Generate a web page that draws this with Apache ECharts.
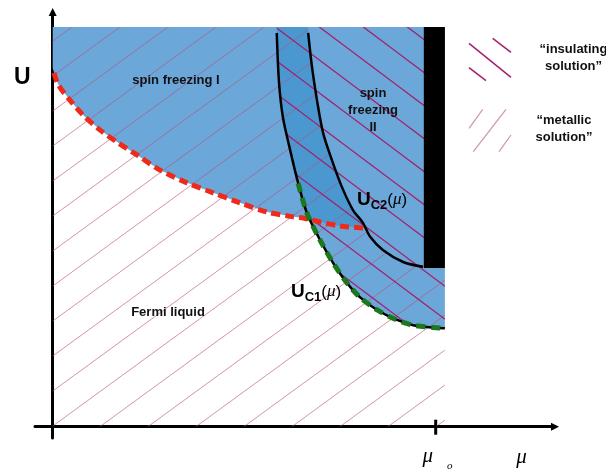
<!DOCTYPE html>
<html>
<head>
<meta charset="utf-8">
<script src="https://cdn.jsdelivr.net/npm/echarts@6/dist/echarts.min.js"></script>
<style>
  html, body { margin: 0; padding: 0; background: #fff; }
  #chart { width: 606px; height: 472px; }
</style>
</head>
<body>
<div id="chart"></div>
<script>
// Schematic phase diagram in the (mu/mu0, U) plane; U in units of the top of the plotted range.

// Spin-freezing crossover (red dashed)
const crossoverMu = [0.000, 0.014, 0.045, 0.079, 0.124, 0.168, 0.220, 0.280, 0.351, 0.419, 0.489, 0.560, 0.628, 0.654, 0.698, 0.750, 0.817];
const crossoverU  = [0.897, 0.857, 0.817, 0.780, 0.742, 0.712, 0.680, 0.642, 0.610, 0.585, 0.560, 0.537, 0.525, 0.522, 0.512, 0.502, 0.497];
// U_C1(mu): insulating solution appears to the right of this line
const uc1Mu = [0.585, 0.591, 0.601, 0.620, 0.641, 0.664, 0.698, 0.732, 0.768, 0.802, 0.847, 0.899, 0.941, 0.993, 1.024];
const uc1U  = [0.985, 0.860, 0.775, 0.692, 0.609, 0.534, 0.467, 0.410, 0.360, 0.324, 0.292, 0.267, 0.254, 0.248, 0.246];
// U_C2(mu): metallic solution disappears to the right of this line
const uc2Mu = [0.667, 0.677, 0.690, 0.706, 0.729, 0.755, 0.784, 0.810, 0.829, 0.862, 0.915, 0.967];
const uc2U  = [0.985, 0.900, 0.817, 0.735, 0.667, 0.600, 0.542, 0.510, 0.475, 0.442, 0.412, 0.400];
// part of U_C1 drawn green dashed
const uc1DashedFromMu = 0.63;
// Mott insulator bar near mu0
const barMu = [0.969, 1.024];
const barU  = [0.397, 1.000];
// plotted domain
const muEdge = 1.024;
const uTop = 1.0;
const mu0 = 1.0;

const sans = '"Liberation Sans", Arial, Helvetica, sans-serif';
const serif = '"Liberation Serif", "Times New Roman", serif';
const ink = '#111';
const metallicInk = 'rgba(180,80,125,0.62)';
const insulatingInk = '#a3206d';

// Repeating tile of parallel lines y = phase + slope * x (canvas pixels)
function hatchTile(w, h, slope, phase, color, width) {
  const c = document.createElement('canvas');
  c.width = w; c.height = h;
  const g = c.getContext('2d');
  g.strokeStyle = color;
  g.lineWidth = width;
  for (let k = -5; k <= 5; k++) {
    g.beginPath();
    g.moveTo(-w, phase + k * h - slope * w);
    g.lineTo(2 * w, phase + k * h + slope * 2 * w);
    g.stroke();
  }
  return c;
}
const metallicFill = { image: hatchTile(48, 35, -35 / 48, 9.5, metallicInk, 1), repeat: 'repeat' };
const insulatingFill = { image: hatchTile(44, 33, 33 / 44, 18.5, insulatingInk, 1.3), repeat: 'repeat' };

const lightBlue = '#6ba7d9';
const darkBlue = '#4b98d1';

// crossing of two polylines
function crossing(aMu, aU, bMu, bU) {
  for (let i = 0; i < aMu.length - 1; i++) {
    for (let j = 0; j < bMu.length - 1; j++) {
      const x1 = aMu[i], y1 = aU[i], x2 = aMu[i + 1], y2 = aU[i + 1];
      const x3 = bMu[j], y3 = bU[j], x4 = bMu[j + 1], y4 = bU[j + 1];
      const d = (x1 - x2) * (y3 - y4) - (y1 - y2) * (x3 - x4);
      if (Math.abs(d) < 1e-12) continue;
      const t = ((x1 - x3) * (y3 - y4) - (y1 - y3) * (x3 - x4)) / d;
      const s = -((x1 - x2) * (y1 - y3) - (y1 - y2) * (x1 - x3)) / d;
      if (t >= 0 && t <= 1 && s >= 0 && s <= 1) {
        return { i: i, j: j, mu: x1 + t * (x2 - x1), u: y1 + t * (y2 - y1) };
      }
    }
  }
  return null;
}

function pairs(mus, us) { return mus.map((m, i) => [m, us[i]]); }

function renderRegions(params, api) {
  const pt = (m, u) => api.coord([m, u]);
  const path = (mus, us) => mus.map((m, i) => pt(m, us[i]));
  const n = crossoverMu.length - 1;

  const aboveCrossover = [pt(0, uTop)].concat(path(crossoverMu, crossoverU), [pt(crossoverMu[n], uTop)]);
  const rightOfUc1 = [pt(uc1Mu[0], uTop)].concat(path(uc1Mu, uc1U), [pt(muEdge, uTop)]);
  const leftOfUc2 = [pt(0, 0), pt(0, uTop), pt(uc2Mu[0], uTop)].concat(path(uc2Mu, uc2U), [pt(muEdge, barU[0]), pt(muEdge, 0)]);

  // coexistence band above the crossover
  const x = crossing(crossoverMu, crossoverU, uc1Mu, uc1U);
  const band = [pt(uc1Mu[0], uTop)];
  for (let k = 0; k <= x.j; k++) band.push(pt(uc1Mu[k], uc1U[k]));
  band.push(pt(x.mu, x.u));
  for (let k = x.i + 1; k <= n; k++) band.push(pt(crossoverMu[k], crossoverU[k]));
  for (let k = uc2Mu.length - 1; k >= 0; k--) {
    if (uc2U[k] > crossoverU[n]) band.push(pt(uc2Mu[k], uc2U[k]));
  }
  band.push(pt(uc2Mu[0], uTop));

  const b0 = pt(barMu[0], barU[1]);
  const b1 = pt(barMu[1], barU[0]);

  const poly = (points, style) => ({ type: 'polygon', shape: { points: points }, style: style, silent: true });
  return {
    type: 'group',
    children: [
      poly(aboveCrossover, { fill: lightBlue }),
      poly(rightOfUc1, { fill: lightBlue }),
      poly(band, { fill: darkBlue }),
      poly(leftOfUc2, { fill: metallicFill }),
      poly(rightOfUc1, { fill: insulatingFill }),
      { type: 'rect', shape: { x: b0[0], y: b0[1], width: b1[0] - b0[0], height: b1[1] - b0[1] }, style: { fill: '#000' }, silent: true }
    ]
  };
}

function renderMu0(params, api) {
  const p = api.coord([mu0, 0]);
  return {
    type: 'group',
    children: [
      { type: 'line', shape: { x1: p[0], y1: p[1] - 7, x2: p[0], y2: p[1] + 8 }, style: { stroke: '#000', lineWidth: 3 }, silent: true },
      { type: 'text', style: { text: 'μ', x: p[0] - 8, y: p[1] + 30, font: 'italic 21px ' + serif, fill: '#000', align: 'center', verticalAlign: 'middle' }, silent: true },
      { type: 'text', style: { text: 'o', x: p[0] + 14, y: p[1] + 39, font: 'italic 11px ' + serif, fill: '#000', align: 'center', verticalAlign: 'middle' }, silent: true }
    ]
  };
}

const ucRich = {
  u: { fontFamily: sans, fontWeight: 'bold', fontSize: 19, lineHeight: 24, color: ink },
  s: { fontFamily: sans, fontWeight: 'bold', fontSize: 13, lineHeight: 12, verticalAlign: 'bottom', color: ink },
  p: { fontFamily: sans, fontSize: 17, lineHeight: 24, color: ink },
  m: { fontFamily: serif, fontStyle: 'italic', fontSize: 17, lineHeight: 24, color: ink }
};

const chart = echarts.init(document.getElementById('chart'), null, { renderer: 'canvas', width: 606, height: 472 });

chart.setOption({
  animation: false,
  backgroundColor: '#fff',
  grid: { left: 35, right: 51, top: 12, bottom: 34, containLabel: false },
  xAxis: {
    type: 'value', min: -0.0462, max: 1.3115,
    axisLine: { onZero: true, symbol: ['none', 'triangle'], symbolSize: [8, 8], lineStyle: { color: '#000', width: 3 } },
    axisTick: { show: false }, axisLabel: { show: false }, splitLine: { show: false },
    name: 'μ', nameLocation: 'end', nameGap: -33.5,
    nameTextStyle: { fontFamily: serif, fontStyle: 'italic', fontSize: 21, color: '#000', align: 'center', verticalAlign: 'top', padding: [20, 0, 0, 0] }
  },
  yAxis: {
    type: 'value', min: -0.0283, max: 1.0375,
    axisLine: { onZero: true, symbol: ['none', 'triangle'], symbolSize: [8, 8], lineStyle: { color: '#000', width: 3 } },
    axisTick: { show: false }, axisLabel: { show: false }, splitLine: { show: false },
    name: 'U', nameLocation: 'end', nameGap: -66,
    nameTextStyle: { fontFamily: sans, fontWeight: 'bold', fontSize: 23, color: '#000', align: 'right', verticalAlign: 'middle', padding: [0, 22, 0, 0] }
  },
  series: [
    { type: 'custom', name: 'regions', coordinateSystem: 'cartesian2d', data: [[0, 0]], renderItem: renderRegions, silent: true, z: 1 },
    { type: 'line', name: 'U_C1', data: pairs(uc1Mu, uc1U), smooth: 0.3, showSymbol: false, silent: true, z: 3,
      lineStyle: { color: '#000', width: 2.5 } },
    { type: 'line', name: 'U_C2', data: pairs(uc2Mu, uc2U), smooth: 0.3, showSymbol: false, silent: true, z: 3,
      lineStyle: { color: '#000', width: 2.5 } },
    { type: 'line', name: 'crossover', data: pairs(crossoverMu, crossoverU), smooth: 0.3, showSymbol: false, silent: true, z: 4,
      lineStyle: { color: '#ee2b1b', width: 5, type: [9, 5], dashOffset: 9 } },
    { type: 'line', name: 'U_C1 dashed', data: pairs(uc1Mu, uc1U).filter(p => p[0] >= uc1DashedFromMu), smooth: 0.3, showSymbol: false, silent: true, z: 4,
      lineStyle: { color: '#1c781c', width: 5, type: [9, 6] } },
    { type: 'custom', name: 'mu0', coordinateSystem: 'cartesian2d', data: [[mu0, 0]], renderItem: renderMu0, silent: true, z: 5 }
  ],
  graphic: [
    { type: 'text', z: 100, silent: true, style: { text: 'spin freezing I', x: 176, y: 80, font: 'bold 13px ' + sans, fill: ink, align: 'center', verticalAlign: 'middle' } },
    { type: 'text', z: 100, silent: true, style: { text: 'spin\nfreezing\nII', x: 373, y: 110, lineHeight: 17, font: 'bold 13px ' + sans, fill: ink, align: 'center', verticalAlign: 'middle' } },
    { type: 'text', z: 100, silent: true, style: { text: 'Fermi liquid', x: 168, y: 312.5, font: 'bold 13px ' + sans, fill: ink, align: 'center', verticalAlign: 'middle' } },
    { type: 'text', z: 100, silent: true, style: { text: '{u|U}{s|C2}{p|(}{m|μ}{p|)}', x: 357, y: 200, rich: ucRich, align: 'left', verticalAlign: 'middle' } },
    { type: 'text', z: 100, silent: true, style: { text: '{u|U}{s|C1}{p|(}{m|μ}{p|)}', x: 291, y: 292, rich: ucRich, align: 'left', verticalAlign: 'middle' } },
    // legend
    { type: 'line', z: 100, silent: true, shape: { x1: 492.7, y1: 38.3, x2: 511, y2: 52.3 }, style: { stroke: insulatingInk, lineWidth: 1.5 } },
    { type: 'line', z: 100, silent: true, shape: { x1: 469, y1: 43.3, x2: 511, y2: 77.3 }, style: { stroke: insulatingInk, lineWidth: 1.5 } },
    { type: 'line', z: 100, silent: true, shape: { x1: 469, y1: 67.7, x2: 486, y2: 80.7 }, style: { stroke: insulatingInk, lineWidth: 1.5 } },
    { type: 'line', z: 100, silent: true, shape: { x1: 473.3, y1: 151.7, x2: 506, y2: 109.3 }, style: { stroke: metallicInk, lineWidth: 1.2 } },
    { type: 'line', z: 100, silent: true, shape: { x1: 482.7, y1: 109.3, x2: 469, y2: 128.3 }, style: { stroke: metallicInk, lineWidth: 1.2 } },
    { type: 'line', z: 100, silent: true, shape: { x1: 511, y1: 135, x2: 499, y2: 151.7 }, style: { stroke: metallicInk, lineWidth: 1.2 } },
    { type: 'text', z: 100, silent: true, style: { text: '“insulating\nsolution”', x: 573.5, y: 58, lineHeight: 17, font: 'bold 13px ' + sans, fill: ink, align: 'center', verticalAlign: 'middle' } },
    { type: 'text', z: 100, silent: true, style: { text: '“metallic\nsolution”', x: 564, y: 128.5, lineHeight: 17, font: 'bold 13px ' + sans, fill: ink, align: 'center', verticalAlign: 'middle' } }
  ]
});
</script>
</body>
</html>
